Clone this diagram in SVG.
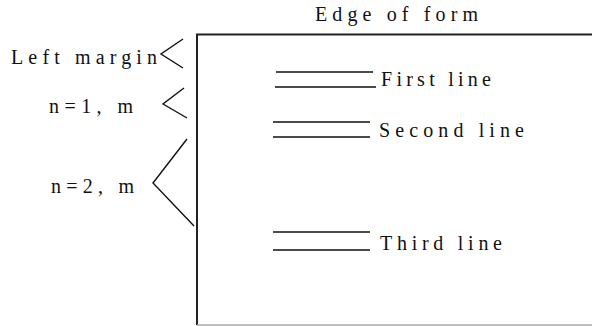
<svg xmlns="http://www.w3.org/2000/svg" width="592" height="326" viewBox="0 0 592 326">
<style>
.t{font-family:'Liberation Serif','Times New Roman',serif;font-size:20px;fill:#111}
.ln{stroke:#111;stroke-width:1.4;fill:none}
.frm{stroke:#222;stroke-width:2;fill:none}
</style>
<rect width="592" height="326" fill="#fff"/>
<g id="form">
<path class="frm" d="M197,325 V34.5 H592"/>
<path d="M197,325 H592" stroke="#aaa" stroke-width="1.5" fill="none"/>
<text class="t" x="315" y="21" textLength="163" lengthAdjust="spacing">Edge of form</text>
</g>
<g id="left-margin">
<text class="t" x="11" y="64" textLength="146" lengthAdjust="spacing">Left margin</text>
<polyline class="ln" points="183,39 161,54 183,68"/>
</g>
<g id="n1">
<text class="t" x="49" y="113" textLength="84" lengthAdjust="spacing">n=1, m</text>
<polyline class="ln" points="184,88 163,104 187,118"/>
</g>
<g id="n2">
<text class="t" x="51" y="193" textLength="83" lengthAdjust="spacing">n=2, m</text>
<polyline class="ln" points="187,139 153,183 194,226"/>
</g>
<g id="first-line">
<path class="ln" d="M276,72 H373 M275,87 H376"/>
<text class="t" x="381" y="86" textLength="110" lengthAdjust="spacing">First line</text>
</g>
<g id="second-line">
<path class="ln" d="M273,122 H370 M273,137 H370"/>
<text class="t" x="379" y="137" textLength="145" lengthAdjust="spacing">Second line</text>
</g>
<g id="third-line">
<path class="ln" d="M273,232 H370 M273,250 H370"/>
<text class="t" x="380" y="250" textLength="122" lengthAdjust="spacing">Third line</text>
</g>
<g id="connectors"></g>
</svg>
